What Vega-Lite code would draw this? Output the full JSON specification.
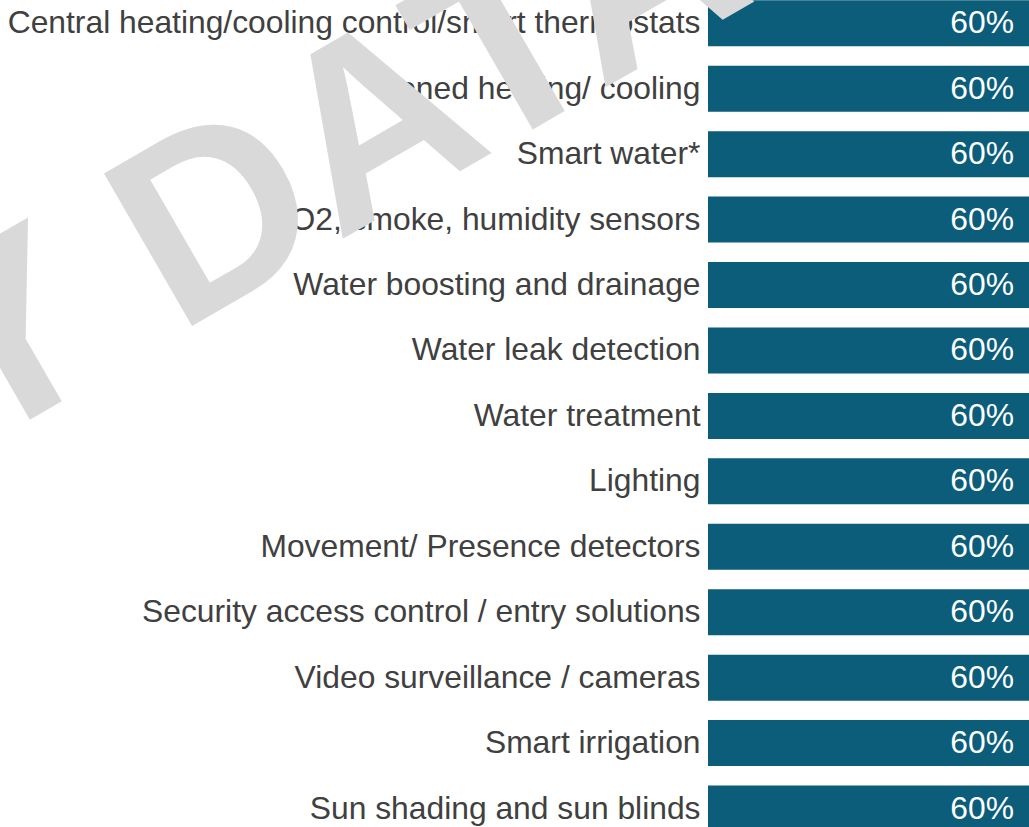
{
  "$schema": "https://vega.github.io/schema/vega-lite/v6.json",
  "width": 321,
  "height": 827,
  "autosize": {"type": "none"},
  "padding": {"left": 708, "top": 0, "right": 0, "bottom": 0},
  "background": "white",
  "config": {"view": {"stroke": null}, "font": "Liberation Sans"},
  "datasets": {
    "items": [
      {"item": "Central heating/cooling control/smart thermostats", "share": 0.6},
      {"item": "Zoned heating/ cooling", "share": 0.6},
      {"item": "Smart water*", "share": 0.6},
      {"item": "CO2, smoke, humidity sensors", "share": 0.6},
      {"item": "Water boosting and drainage", "share": 0.6},
      {"item": "Water leak detection", "share": 0.6},
      {"item": "Water treatment", "share": 0.6},
      {"item": "Lighting", "share": 0.6},
      {"item": "Movement/ Presence detectors", "share": 0.6},
      {"item": "Security access control / entry solutions", "share": 0.6},
      {"item": "Video surveillance / cameras", "share": 0.6},
      {"item": "Smart irrigation", "share": 0.6},
      {"item": "Sun shading and sun blinds", "share": 0.6}
    ],
    "watermark": [{"label": "DUMMY DATA"}]
  },
  "layer": [
    {
      "data": {"name": "items"},
      "mark": {"type": "bar", "color": "#0b5d7a"},
      "encoding": {
        "y": {
          "field": "item", "type": "nominal", "sort": null,
          "scale": {"type": "band", "paddingInner": 0.297, "paddingOuter": 0, "range": [0.3, 831.5]},
          "axis": {"title": null, "ticks": false, "tickSize": 0, "domain": false, "grid": false,
                   "labelFontSize": 31.8, "labelFont": "Liberation Sans", "labelColor": "#404040",
                   "labelPadding": 8, "labelLimit": 1000}
        },
        "x": {"field": "share", "type": "quantitative", "scale": {"domain": [0, 0.6], "nice": false}, "axis": null}
      }
    },
    {
      "data": {"name": "watermark"},
      "mark": {"type": "text", "font": "Liberation Sans", "fontWeight": "bold", "fontSize": 256,
               "angle": 330, "align": "center", "baseline": "alphabetic", "color": "#d9d9d9", "dx": -14, "dy": 2},
      "encoding": {
        "x": {"datum": -1.2632, "type": "quantitative"},
        "y": {"datum": "Water treatment", "type": "nominal"},
        "text": {"field": "label"}
      }
    },
    {
      "data": {"name": "items"},
      "mark": {"type": "text", "align": "right", "baseline": "middle", "dx": -15, "color": "white",
               "font": "Liberation Sans", "fontSize": 31.8},
      "encoding": {
        "y": {"field": "item", "type": "nominal", "sort": null},
        "x": {"field": "share", "type": "quantitative"},
        "text": {"field": "share", "type": "quantitative", "format": ".0%"}
      }
    }
  ]
}
